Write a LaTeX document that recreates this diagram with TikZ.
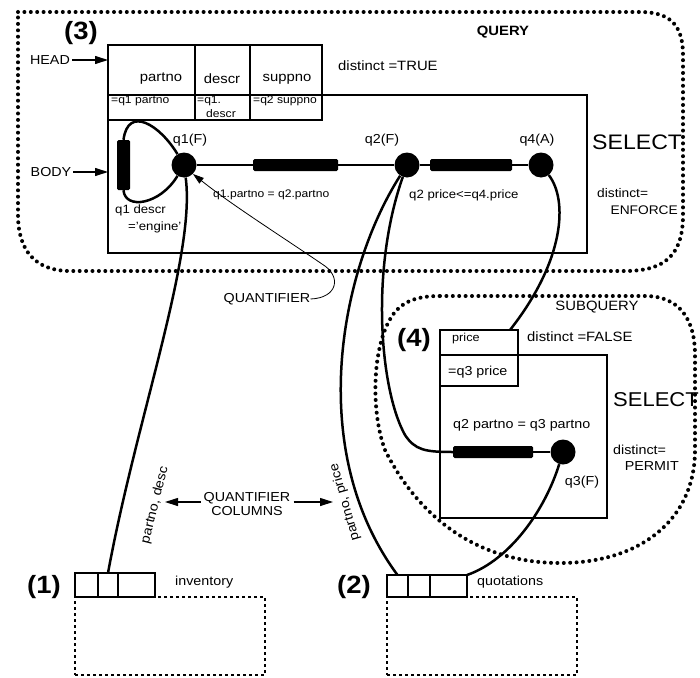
\documentclass[tikz,border=0pt]{standalone}
\usepackage{fontspec}
\setmainfont{Liberation Sans}[FakeStretch=1.1]
\usetikzlibrary{arrows.meta}
\begin{document}
\begin{tikzpicture}[x=1pt,y=-1pt,
  box/.style={draw,line width=2.4pt,inner sep=0,outer sep=0,anchor=north west},
  bound/.style={line width=4pt,dash pattern=on 0pt off 6.4pt,line cap=round},
  rows/.style={draw,line width=1.6pt,dash pattern=on 3pt off 3pt,inner sep=0,outer sep=0,anchor=north west},
  link/.style={line width=2.5pt},
  var/.style={circle,fill=black,minimum size=25pt,inner sep=0},
  predbar/.style={fill=black,rounded corners=1.5pt,inner sep=0},
  ptr/.style={line width=1.1pt,-{Triangle[length=13pt,width=8pt]}},
  thinptr/.style={line width=0.8pt,-{Triangle[length=11pt,width=7pt]}},
  txt/.style={inner sep=0,font=\fontsize{#1}{#1}\selectfont},
  big/.style={inner sep=0,font=\fontsize{25}{25}\selectfont\bfseries},
]
\fill[white] (0,0) rectangle (700,677);
\useasboundingbox (0,0) rectangle (700,677);

% ---------- boundaries ----------
\draw[bound] (18,12) -- (640,12) .. controls (670,12) and (683,25) .. (683,55)
  -- (683,215) .. controls (683,255) and (665,271) .. (625,271)
  -- (70,271) .. controls (35,271) and (18,250) .. (18,215) -- cycle;
\draw[bound] (440,296) -- (645,296) .. controls (680,296) and (695,320) .. (695,355)
  -- (695,450) .. controls (695,520) and (640,563) .. (560,563)
  .. controls (480,563) and (420,520) .. (385,450)
  .. controls (370,410) and (372,340) .. (395,312)
  .. controls (405,300) and (420,296) .. (440,296);

% ---------- query (3) ----------
\node[box,minimum width=479pt,minimum height=158pt] (body) at (108,95) {};
\node[box,minimum width=87pt,minimum height=50pt] (hA) at (108,45) {};
\node[box,minimum width=55pt,minimum height=50pt] (hB) at (195,45) {};
\node[box,minimum width=72pt,minimum height=50pt] (hC) at (250,45) {};
\node[box,minimum width=87pt,minimum height=25pt] (rA) at (108,95) {};
\node[box,minimum width=55pt,minimum height=25pt] (rB) at (195,95) {};
\node[box,minimum width=72pt,minimum height=25pt] (rC) at (250,95) {};

\node[txt=13.5] (tpartno) at (161,79) {partno};
\node[txt=13.5] (tdescr) at (222,79) {descr};
\node[txt=13.5] (tsuppno) at (287,79) {suppno};
\node[txt=11,anchor=west] (tq1p) at (111,101) {=q1 partno};
\node[txt=11,anchor=west] (tq1d) at (197,101) {=q1.};
\node[txt=11] (tq1d2) at (221,114) {descr};
\node[txt=11,anchor=west] (tq2s) at (253,101) {=q2 suppno};

\node[big] (n3) at (81,33) {(3)};
\node[txt=13.5,font=\fontsize{13.5}{13.5}\selectfont\bfseries] (query) at (503,32) {QUERY};
\node[txt=13.5,anchor=west] (dtrue) at (338,66) {distinct =TRUE};
\node[txt=21,anchor=west] (sel3) at (592,142) {SELECT};
\node[txt=12.5,anchor=west] (denf1) at (597,193) {distinct=};
\node[txt=12.5,anchor=east] (denf2) at (678,210) {ENFORCE};

\node[txt=13] (headlbl) at (50,60) {HEAD};
\node[txt=13] (bodylbl) at (51,172) {BODY};
\draw[ptr] (headlbl.east) ++(2,0) -- (headlbl.east -| hA.west);
\draw[ptr] (bodylbl.east) ++(2,0) -- (bodylbl.east -| body.west);

% tuple variables and predicates
\node[var] (q1) at (184,165) {};
\node[var] (q2) at (407,165) {};
\node[var] (q4) at (541,165) {};
\node[predbar,minimum width=13pt,minimum height=50pt] (pb0) at (123.5,165) {};
\node[predbar,minimum width=85pt,minimum height=12pt] (pb1) at (295.5,165) {};
\node[predbar,minimum width=82pt,minimum height=12pt] (pb2) at (471,165) {};

\draw[link] (q1) -- (pb1) -- (q2) -- (pb2) -- (q4);
\draw[link] (q1) .. controls (160,125) and (128,105) .. (pb0.north);
\draw[link] (pb0.south) .. controls (125,210) and (160,205) .. (q1);

\node[txt=13] (lq1) at (190,140) {q1(F)};
\node[txt=13] (lq2) at (382,140) {q2(F)};
\node[txt=13] (lq4) at (537,140) {q4(A)};
\node[txt=11,anchor=west] (lp1) at (213,195) {q1.partno = q2.partno};
\node[txt=12,anchor=west] (lp2) at (409,195) {q2 price<=q4.price};
\node[txt=12,anchor=west] (lp0a) at (115,210) {q1 descr};
\node[txt=12,anchor=west] (lp0b) at (128,227) {='engine'};

\node[txt=13] (quant) at (267,299) {QUANTIFIER};
\draw[thinptr] (quant.east) .. controls (338,298) and (342,276) .. (322,264)
  .. controls (275,232) and (232,205) .. (q1.south east);

% ---------- subquery (4) ----------
\node[box,minimum width=167pt,minimum height=163pt] (sel4box) at (440,355) {};
\node[box,minimum width=78pt,minimum height=25pt] (p1) at (440,330) {};
\node[box,minimum width=78pt,minimum height=31pt] (p2) at (440,355) {};
\node[txt=11.5,anchor=west] (tprice) at (452,339) {price};
\node[txt=13,anchor=west] (tq3price) at (448,372) {=q3 price};
\node[big] (n4) at (414,340) {(4)};
\node[txt=13.5] (subq) at (597,307) {SUBQUERY};
\node[txt=13.5,anchor=west] (dfalse) at (527,337) {distinct =FALSE};
\node[txt=20,anchor=west] (sel4) at (613,400) {SELECT};
\node[txt=13,anchor=west] (dper1) at (613,450) {distinct=};
\node[txt=13,anchor=east] (dper2) at (679,466) {PERMIT};
\node[txt=13,anchor=west] (lp3) at (453,425) {q2 partno = q3 partno};

\node[var] (q3) at (563,452) {};
\node[predbar,minimum width=80pt,minimum height=12pt] (pb3) at (493,452) {};
\node[txt=13] (lq3) at (582,482) {q3(F)};
\draw[link] (pb3) -- (q3);

% ---------- base relations ----------
\node[box,minimum width=23pt,minimum height=24pt] (t1a) at (75,573) {};
\node[box,minimum width=20pt,minimum height=24pt] (t1b) at (98,573) {};
\node[box,minimum width=37pt,minimum height=24pt] (t1c) at (118,573) {};
\node[rows,minimum width=190pt,minimum height=78pt] (t1rows) at (75,597) {};
\node[big] (n1) at (44,587) {(1)};
\node[txt=13,anchor=west] (inv) at (175,582) {inventory};

\node[box,minimum width=21pt,minimum height=22pt] (t2a) at (387,575) {};
\node[box,minimum width=22pt,minimum height=22pt] (t2b) at (408,575) {};
\node[box,minimum width=37pt,minimum height=22pt] (t2c) at (430,575) {};
\node[rows,minimum width=190pt,minimum height=78pt] (t2rows) at (387,597) {};
\node[big] (n2) at (354,587) {(2)};
\node[txt=13,anchor=west] (quot) at (477,582) {quotations};

% ---------- links between query blocks and relations ----------
\draw[link] (q1) .. controls (196,255) and (136,420) .. (t1b.north);
\draw[link] (q2) .. controls (340,270) and (305,450) .. (t2a.north);
\draw[link] (q2) .. controls (370,270) and (380,390) .. (405,435)
  .. controls (415,450) and (425,452) .. (pb3.west);
\draw[link] (q4) .. controls (568,200) and (565,260) .. ([xshift=-8pt]p1.north east);
\draw[link] (q3) .. controls (545,510) and (510,560) .. (t2c.north east);

\node[txt=13,rotate=76] (cols1) at (155,505) {partno, desc};
\node[txt=13,rotate=106] (cols2) at (345,502) {partno, price};
\node[txt=13,align=center] (qcols) at (247,504) {QUANTIFIER\\[1pt]COLUMNS};
\coordinate (qcL) at (165,502);
\coordinate (qcR) at (333,502);
\draw[ptr] (qcols.west |- qcL) ++(-3,0) -- (qcL);
\draw[ptr] (qcols.east |- qcR) ++(3,0) -- (qcR);
\end{tikzpicture}
\end{document}
